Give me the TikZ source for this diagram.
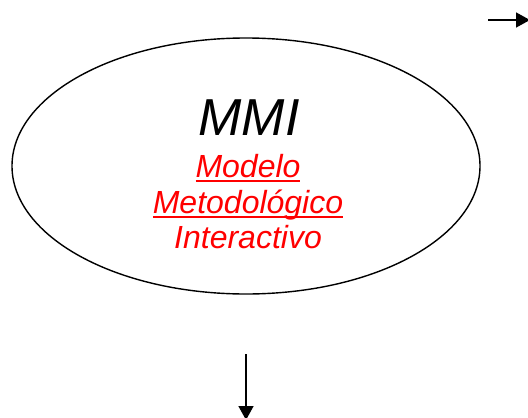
\documentclass[tikz,border=0pt]{standalone}
\usepackage{fontspec}
\setmainfont{Liberation Sans}
\usetikzlibrary{arrows.meta,shapes.geometric}
\newcommand{\myul}[1]{\setbox0\hbox{#1}\rlap{\rule[-0.16em]{\wd0}{0.075em}}\box0}
\begin{document}
\begin{tikzpicture}[x=1pt,y=-1pt,
  conn/.style={line width=1.5pt,-{Triangle[length=14pt,width=15pt]}},
  redtxt/.style={text=red,font=\fontsize{32}{37}\selectfont\itshape,inner sep=0pt,anchor=base}]
\useasboundingbox (0,0) rectangle (528,418);
\node[draw,line width=1.4pt,ellipse,minimum width=468pt,minimum height=256pt,inner sep=0pt] (e) at (246,166) {};
\node[inner sep=0pt,anchor=base,font=\fontsize{52}{60}\selectfont\itshape] (mmi) at (249,135) {MMI};
\node[redtxt] (m1) at (248,177) {\myul{Modelo}};
\node[redtxt] (m2) at (248,213) {\myul{Metodológico}};
\node[redtxt] (m3) at (248,248) {Interactivo};
\coordinate (a1) at (488,20);
\coordinate (a2) at (530,20);
\coordinate (b1) at (246,354);
\coordinate (b2) at (246,420);
\draw[conn] (a1) -- (a2);
\draw[conn] (b1) -- (b2);
\end{tikzpicture}
\end{document}
